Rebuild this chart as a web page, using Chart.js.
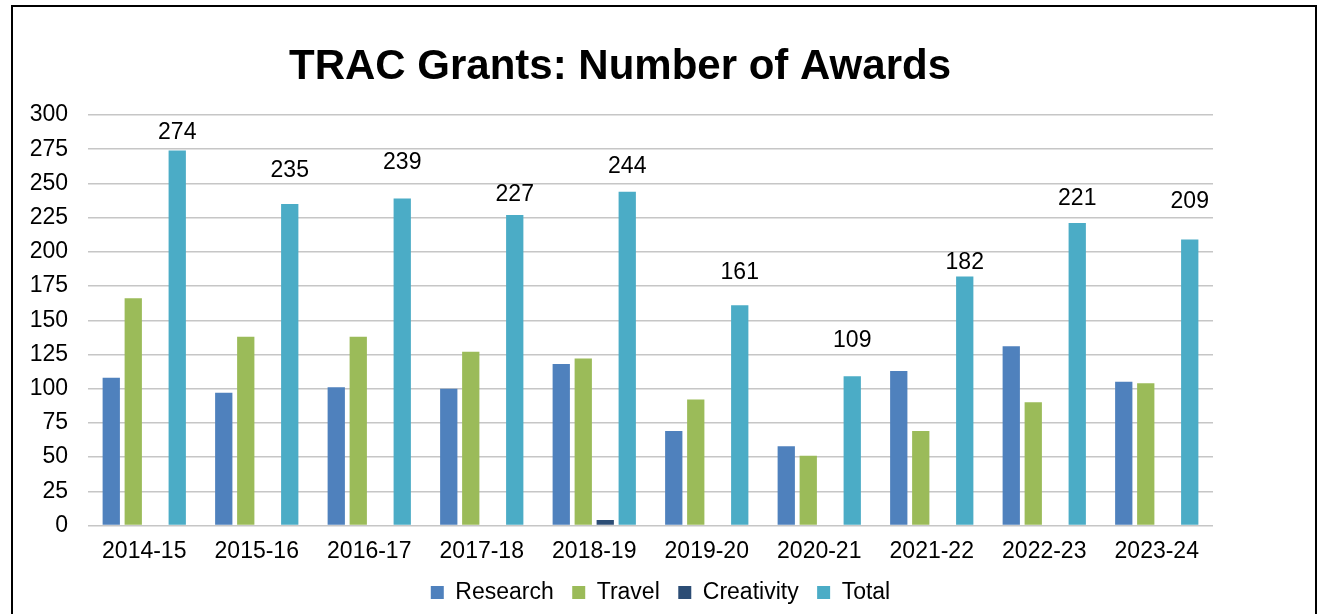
<!DOCTYPE html>
<html>
<head>
<meta charset="utf-8">
<title>TRAC Grants: Number of Awards</title>
<script src="https://cdn.jsdelivr.net/npm/chart.js@4.4.1/dist/chart.umd.min.js"></script>
<style>
  html, body { margin: 0; padding: 0; background: #fff; overflow: hidden; }
  #frame { position: absolute; left: 11px; top: 5px; width: 1306px; height: 700px; border: 2px solid #000; box-sizing: border-box; }
  #awardsChart { position: absolute; left: 0; top: 0; }
</style>
</head>
<body>
<div id="frame"></div>
<canvas id="awardsChart" width="1321" height="614"></canvas>
<script>
// data
const years = ['2014-15', '2015-16', '2016-17', '2017-18', '2018-19', '2019-20', '2020-21', '2021-22', '2022-23', '2023-24'];
const research = [108, 97, 101, 100, 118, 69, 58, 113, 131, 105];
const travel = [166, 138, 138, 127, 122, 92, 51, 69, 90, 104];
const creativity = [0, 0, 0, 0, 4, 0, 0, 0, 0, 0];
const total = [274, 235, 239, 227, 244, 161, 109, 182, 221, 209];
const yMin = 0;
const yMax = 300;
const yStep = 25;

// the labels of the totals were moved by hand in the original, gap above bar in px
const totalLabelGap = [18, 33, 36, 20, 25, 33, 36, 14, 24, 38];

const fontFamily = "Arial, 'Liberation Sans', sans-serif";
const chartTitle = 'TRAC Grants: Number of Awards';
const gridColor = '#c6c6c6';

// title drawn by hand so it can sit a bit left of centre, like in Excel
const titlePlugin = {
    id: 'excelTitle',
    afterDraw(chart) {
        let ctx = chart.ctx;
        ctx.save();
        ctx.font = 'bold 42px ' + fontFamily;
        ctx.fillStyle = '#000';
        ctx.textAlign = 'center';
        ctx.textBaseline = 'alphabetic';
        ctx.fillText(chartTitle, 620, 79);
        ctx.restore();
    }
};

// numbers above the Total bars
const totalLabelPlugin = {
    id: 'totalLabels',
    afterDatasetsDraw(chart) {
        let ctx = chart.ctx;
        let meta = chart.getDatasetMeta(3);
        ctx.save();
        ctx.font = '23px ' + fontFamily;
        ctx.fillStyle = '#000';
        ctx.textAlign = 'center';
        ctx.textBaseline = 'middle';
        meta.data.forEach(function(bar, i) {
            ctx.fillText(String(total[i]), bar.x, bar.y - totalLabelGap[i]);
        });
        ctx.restore();
    }
};

let awardsCanvas = document.getElementById('awardsChart').getContext('2d');

let awardsChart = new Chart(awardsCanvas, {
    type: 'bar',
    data: {
        labels: years,
        datasets: [
            { label: 'Research', data: research, backgroundColor: '#4F81BD' },
            { label: 'Travel', data: travel, backgroundColor: '#9BBB59' },
            { label: 'Creativity', data: creativity, backgroundColor: '#2C4D75' },
            { label: 'Total', data: total, backgroundColor: '#4BACC6' }
        ]
    },
    options: {
        responsive: false,
        animation: false,
        devicePixelRatio: 1,
        categoryPercentage: 0.782,
        barPercentage: 0.786,
        layout: {
            padding: { top: 115, left: 0, right: 0, bottom: 0 }
        },
        plugins: {
            title: { display: false },
            tooltip: { enabled: false },
            legend: {
                position: 'bottom',
                labels: {
                    color: '#000',
                    font: { family: fontFamily, size: 23 },
                    boxWidth: 13,
                    boxHeight: 13,
                    padding: 18.5
                }
            }
        },
        scales: {
            x: {
                grid: { display: false, drawTicks: false },
                border: { display: false },
                ticks: {
                    color: '#000',
                    font: { family: fontFamily, size: 23 },
                    padding: 12,
                    maxRotation: 0,
                    autoSkip: false
                },
                // chart.js counts the tick padding twice, keep the axis tight
                afterFit: function(scale) { scale.height = 37; }
            },
            y: {
                min: yMin,
                max: yMax,
                grid: { color: gridColor, lineWidth: 1.5, drawTicks: false },
                border: { display: false },
                ticks: {
                    stepSize: yStep,
                    color: '#000',
                    font: { family: fontFamily, size: 23 },
                    padding: 20
                },
                afterFit: function(scale) { scale.width = 88; }
            },
            yRight: {
                position: 'right',
                grid: { display: false, drawTicks: false },
                border: { display: false },
                ticks: { display: false },
                afterFit: function(scale) { scale.width = 108; }
            }
        }
    },
    plugins: [titlePlugin, totalLabelPlugin]
});
</script>
</body>
</html>
